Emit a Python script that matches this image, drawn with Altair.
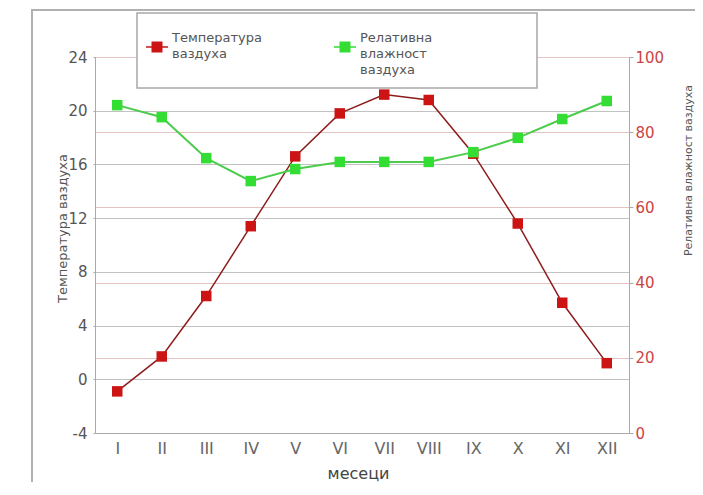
import altair as alt
import pandas as pd

# ---- data ----
months = ["I", "II", "III", "IV", "V", "VI", "VII", "VIII", "IX", "X", "XI", "XII"]
temperature = [-0.9, 1.7, 6.2, 11.4, 16.6, 19.8, 21.2, 20.8, 16.8, 11.6, 5.7, 1.2]
humidity = [87.2, 84.0, 73.1, 67.0, 70.2, 72.1, 72.1, 72.1, 74.7, 78.5, 83.5, 88.3]
series = ["Температура ваздуха", "Релативна влажност ваздуха"]
temp_ticks = [-4, 0, 4, 8, 12, 16, 20, 24]
hum_ticks = [0, 20, 40, 60, 80, 100]

df = pd.DataFrame({"month": months, "temp": temperature, "hum": humidity})

FONT = "DejaVu Sans"
RED = "#cc1414"
RED_LINE = "#8e1c1c"
GREEN = "#33dd33"
GREEN_LINE = "#4ccc4c"

color_scale = alt.Scale(domain=series, range=[RED, GREEN])

# square marker with a short line through it, drawn a little below the first label line
SYMBOL = ("M-1,0.76L-0.5,0.76L-0.5,0.88L-1,0.88Z"
          "M0.5,0.76L1,0.76L1,0.88L0.5,0.88Z"
          "M-0.5,0.32L0.5,0.32L0.5,1.32L-0.5,1.32Z")
legend = alt.Legend(
    title=None, orient="none", legendX=51, legendY=-30,
    direction="horizontal", columns=2,
    symbolType=SYMBOL, symbolSize=484, symbolStrokeWidth=0,
    labelFont=FONT, labelFontSize=13, labelColor="#555", labelOffset=4,
    columnPadding=72,
    labelExpr="split(length(split(datum.label, ' ')) < 3 ? datum.label + ' ' : datum.label, ' ')",
)

x_enc = alt.X(
    "month:N", sort=months,
    scale=alt.Scale(type="point", padding=0.5),
    axis=alt.Axis(
        title="месеци", labelAngle=0, ticks=False, tickSize=0, labelPadding=7,
        labelFont=FONT, labelFontSize=16, labelColor="#666",
        titleFont=FONT, titleFontSize=16, titleColor="#444", titleFontWeight="normal",
        titleX=263, titleY=45, titleBaseline="alphabetic", titleAlign="center",
        domainColor="#aaaaaa", grid=False,
    ),
)

y_temp = alt.Y(
    "temp:Q",
    scale=alt.Scale(domain=[-4, 24], nice=False, zero=False),
    axis=alt.Axis(
        orient="left", values=temp_ticks, title="Температура ваздуха",
        labelExpr="datum.value + ''",
        grid=True, gridColor="#c2c2c2", tickSize=2, tickColor="#aaaaaa",
        labelPadding=6, labelFont=FONT, labelFontSize=15, labelColor="#555",
        domainColor="#aaaaaa",
        titleFont=FONT, titleFontSize=13, titleColor="#555", titleFontWeight="normal",
        titleAngle=270, titleX=-33, titleY=171, titleBaseline="middle", titleAlign="center",
    ),
)

y_hum = alt.Y(
    "hum:Q",
    scale=alt.Scale(domain=[0, 100], nice=False),
    axis=alt.Axis(
        orient="right", values=hum_ticks, title="Релативна влажност ваздуха",
        grid=True, gridColor="#e2c2c2", tickSize=4, tickColor="#aaaaaa",
        labelPadding=2, labelFont=FONT, labelFontSize=15, labelColor="#cc4444",
        domainColor="#aaaaaa",
        titleFont=FONT, titleFontSize=11, titleColor="#555", titleFontWeight="normal",
        titleAngle=270, titleX=59, titleY=113, titleBaseline="middle", titleAlign="center",
    ),
)

base = alt.Chart(df)

temp_layer = alt.layer(
    base.mark_line(color=RED_LINE, strokeWidth=1.5).encode(x=x_enc, y=y_temp),
    base.mark_point(shape="square", filled=True, size=110, opacity=1)
    .transform_calculate(series=f"'{series[0]}'")
    .encode(
        x=x_enc, y=y_temp,
        color=alt.Color("series:N", scale=color_scale, legend=legend),
    ),
)

hum_layer = alt.layer(
    base.mark_line(color=GREEN_LINE, strokeWidth=2).encode(x=x_enc, y=y_hum),
    base.mark_point(shape="square", filled=True, size=110, opacity=1)
    .transform_calculate(series=f"'{series[1]}'")
    .encode(
        x=x_enc, y=y_hum,
        color=alt.Color("series:N", scale=color_scale, legend=legend),
    ),
)

deco = alt.Data(values=[{}])
frame = alt.Chart(deco).mark_rect(fillOpacity=0, stroke="#b0b0b0", strokeWidth=2).encode(
    x=alt.value(-63), x2=alt.value(720), y=alt.value(-47), y2=alt.value(520)
)
legend_box = alt.Chart(deco).mark_rect(fill="white", stroke="#a8a8a8", strokeWidth=1.5).encode(
    x=alt.value(42), x2=alt.value(442), y=alt.value(-44), y2=alt.value(31)
)

chart = (
    alt.layer(frame, legend_box, temp_layer, hum_layer)
    .resolve_scale(y="independent")
    .properties(
        width=534, height=376,
        autosize=alt.AutoSizeParams(type="none"),
        padding={"left": 87, "top": 49, "right": 66, "bottom": 49},
        background="white",
    )
    .configure_view(strokeWidth=0)
    .configure(font=FONT, style={"guide-label": {"lineHeight": 16}})
)

chart.save("out.html", embed_options={"renderer": "svg", "actions": False})
